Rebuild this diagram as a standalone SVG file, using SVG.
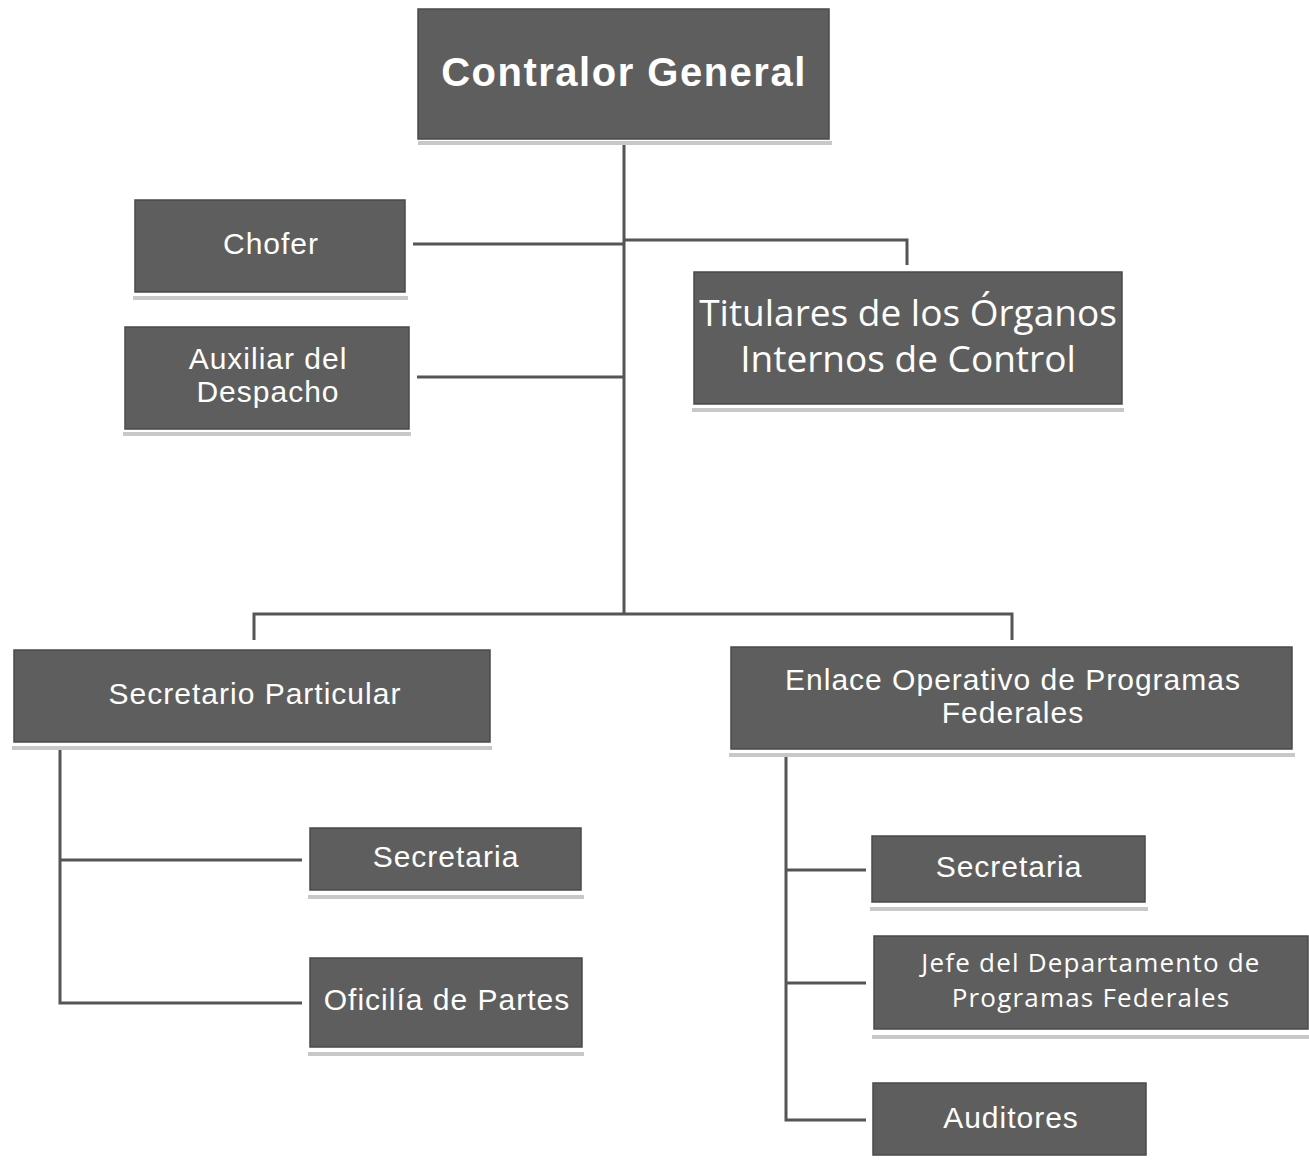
<svg xmlns="http://www.w3.org/2000/svg" width="1309" height="1160" viewBox="0 0 1309 1160">
<style>
.box{fill:#5e5e5e;stroke:#4a4a4a;stroke-width:1.5}
.sh{fill:#c8c8c8}
.t{fill:#ffffff;font-family:"Liberation Sans",Arial,sans-serif;text-anchor:middle;font-size:30px;letter-spacing:1px}
.c{fill:#ffffff;font-family:"Open Sans","Noto Sans",sans-serif;text-anchor:middle}
.ln{fill:none;stroke:#555555;stroke-width:3}
</style>
<rect width="1309" height="1160" fill="#ffffff"/>
<g id="connectors">
<path class="ln" d="M624,145 V614"/>
<path class="ln" d="M413,244 H624 M624,240 H907 V265"/>
<path class="ln" d="M417,377 H624"/>
<path class="ln" d="M254,640 V614 H1012 V640"/>
<path class="ln" d="M60,750 V1003 H302 M60,860 H302"/>
<path class="ln" d="M786,757 V1120 H866 M786,870 H866 M786,983 H866"/>
</g>
<g id="contralor">
<rect class="sh" x="418" y="141" width="414" height="4"/>
<rect class="box" x="418" y="9" width="411" height="130"/>
<text class="t" x="624" y="86" style="font-size:40px;letter-spacing:1.5px" font-weight="bold">Contralor General</text>
</g>
<g id="chofer">
<rect class="sh" x="133" y="296" width="275" height="4"/>
<rect class="box" x="135" y="200" width="270" height="92"/>
<text class="t" x="271" y="254">Chofer</text>
</g>
<g id="auxiliar">
<rect class="sh" x="123" y="432" width="288" height="4"/>
<rect class="box" x="125" y="327" width="284" height="102"/>
<text class="t" x="268" y="369">Auxiliar del</text>
<text class="t" x="268" y="402">Despacho</text>
</g>
<g id="titulares">
<rect class="sh" x="692" y="408" width="432" height="4"/>
<rect class="box" x="694" y="272" width="428" height="132"/>
<text class="c" x="908" y="326" font-size="37">Titulares de los Órganos</text>
<text class="c" x="908" y="372" font-size="37">Internos de Control</text>
</g>
<g id="secretario">
<rect class="sh" x="12" y="746" width="480" height="4"/>
<rect class="box" x="14" y="650" width="476" height="92"/>
<text class="t" x="255" y="704">Secretario Particular</text>
</g>
<g id="enlace">
<rect class="sh" x="729" y="753" width="566" height="4"/>
<rect class="box" x="731" y="647" width="561" height="102"/>
<text class="t" x="1013" y="690">Enlace Operativo de Programas</text>
<text class="t" x="1013" y="723">Federales</text>
</g>
<g id="secretaria-izq">
<rect class="sh" x="308" y="895" width="276" height="4"/>
<rect class="box" x="310" y="828" width="271" height="62"/>
<text class="t" x="446" y="867">Secretaria</text>
</g>
<g id="oficilia">
<rect class="sh" x="308" y="1052" width="276" height="4"/>
<rect class="box" x="310" y="958" width="272" height="89"/>
<text class="t" x="447" y="1010">Oficilía de Partes</text>
</g>
<g id="secretaria-der">
<rect class="sh" x="870" y="907" width="278" height="4"/>
<rect class="box" x="872" y="836" width="273" height="66"/>
<text class="t" x="1009" y="877">Secretaria</text>
</g>
<g id="jefe">
<rect class="sh" x="872" y="1035" width="437" height="4"/>
<rect class="box" x="874" y="936" width="434" height="93"/>
<text class="c" x="1091" y="972" font-size="26" letter-spacing="1.2">Jefe del Departamento de</text>
<text class="c" x="1091" y="1007" font-size="26" letter-spacing="1.2">Programas Federales</text>
</g>
<g id="auditores">
<rect class="box" x="873" y="1083" width="273" height="72"/>
<text class="t" x="1011" y="1128">Auditores</text>
</g>
</svg>
